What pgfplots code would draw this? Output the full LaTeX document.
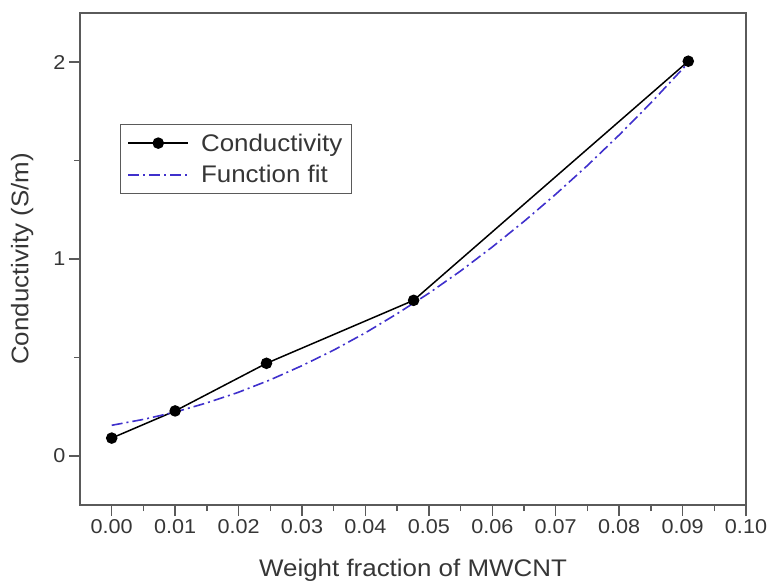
\documentclass[border=0pt]{standalone}
\usepackage{fontspec}
\setmainfont{Liberation Sans}[FakeStretch=1.08]
\usepackage{pgfplots}
\pgfplotsset{compat=1.18}
\definecolor{axisgray}{HTML}{5A5A5A}
\definecolor{labelgray}{HTML}{363636}
\definecolor{fitblue}{HTML}{3F30CC}

\begin{document}
\begin{tikzpicture}
\useasboundingbox (-80bp,-78bp) rectangle (689bp,505bp);
\begin{axis}[
  scale only axis, width=666bp, height=492bp,
  anchor=south west, at={(0bp,0bp)},
  xmin=-0.005, xmax=0.10, ymin=-0.25, ymax=2.25,
  xtick={0,0.01,0.02,0.03,0.04,0.05,0.06,0.07,0.08,0.09,0.10},
  ytick={0,1,2},
  minor x tick num=1, minor y tick num=1,
  tick pos=left, tick align=outside,
  major tick length=11bp, minor tick length=6bp,
  every tick/.style={axisgray, line width=1.4bp},
  axis line style={axisgray, line width=2bp},
  /pgf/number format/assume math mode=true,
  x tick label style={/pgf/number format/fixed, /pgf/number format/fixed zerofill,
    /pgf/number format/precision=2},
  tick label style={labelgray, font=\fontsize{20bp}{22bp}\selectfont},
  xlabel={Weight fraction of MWCNT},
  ylabel={Conductivity (S/m)},
  label style={labelgray, font=\fontsize{24bp}{28bp}\selectfont},
  xlabel style={at={(axis description cs:0.5,0)}, anchor=center, yshift=-65bp},
  ylabel style={at={(axis description cs:-0.087,0.5)}, anchor=center},
  legend cell align=left,
  legend image code/.code={%
    \draw[mark repeat=2,mark phase=2,#1] plot coordinates {(0bp,0bp) (30bp,0bp) (60bp,0bp)};
    \path (70bp,0bp);},
  legend style={at={(rel axis cs:0.06,0.774)}, anchor=north west,
    draw=axisgray, line width=1bp, text=labelgray,
    font=\fontsize{24bp}{28bp}\selectfont,
    inner xsep=7bp, inner ysep=7bp, row sep=9bp},
]
% measured conductivity
\addplot[black, line width=1.5bp, mark=*, mark size=5bp,
  mark options={solid}] coordinates {
  (0.0000,0.090) (0.0100,0.228) (0.0244,0.470) (0.0476,0.790) (0.0909,2.005)
};
\addlegendentry{Conductivity}
% quadratic fit through the measurements
\addplot[fitblue, line width=1.6bp, dash pattern=on 11bp off 4bp on 2bp off 4bp] coordinates {
  (0.000,0.155) (0.005,0.185) (0.010,0.222) (0.015,0.269) (0.020,0.323)
  (0.025,0.386) (0.030,0.458) (0.035,0.537) (0.040,0.625) (0.045,0.722)
  (0.050,0.826) (0.055,0.939) (0.060,1.061) (0.065,1.191) (0.070,1.329)
  (0.075,1.475) (0.080,1.630) (0.085,1.793) (0.0909,1.997)
};
\addlegendentry{Function fit}
\end{axis}
\end{tikzpicture}
\end{document}
